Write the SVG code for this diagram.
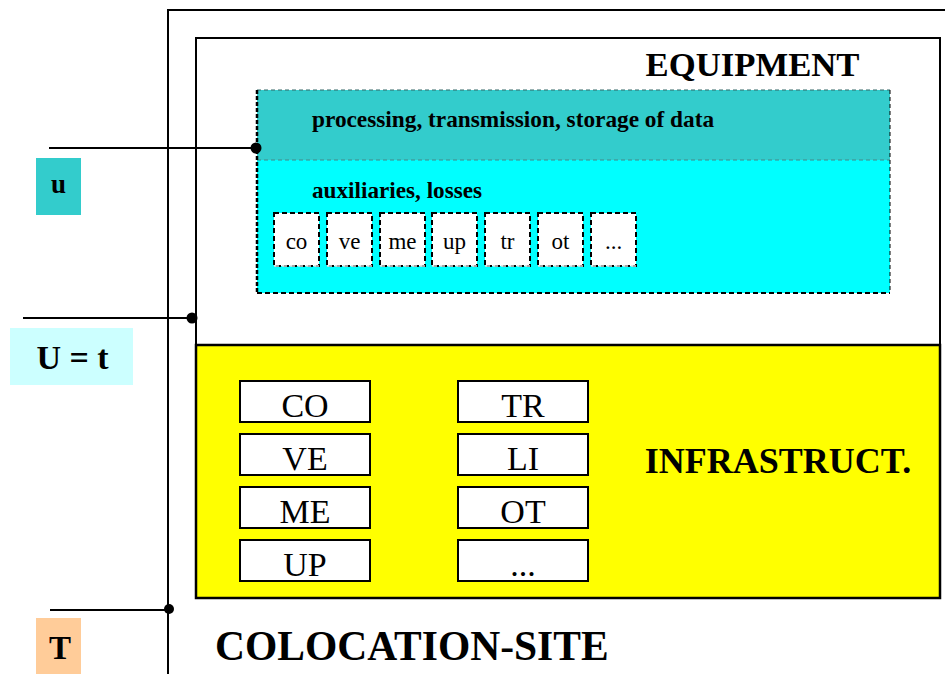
<svg xmlns="http://www.w3.org/2000/svg" width="945" height="674" viewBox="0 0 945 674">
  <style>
    text { font-family: "Liberation Serif", "Times New Roman", serif; fill: #000; }
    .b { font-weight: bold; }
    .frame { fill: none; stroke: #000; stroke-width: 2; }
    .wire { fill: none; stroke: #000; stroke-width: 2; }
    .dot { fill: #000; }
    .sbox { fill: #fff; stroke: #000; stroke-width: 2; stroke-dasharray: 5 3; }
    .sbot { stroke: #ddd; stroke-width: 1.5; stroke-dasharray: 5 3; }
    .bbox { fill: #fff; stroke: #000; stroke-width: 2; }
    .st { font-size: 23px; text-anchor: middle; }
    .bt { font-size: 34px; text-anchor: middle; }
  </style>

  <rect width="945" height="674" fill="#fff"/>

  <!-- colocation site frame -->
  <g id="site">
    <path class="frame" d="M168,674 V10 H945"/>
    <text class="b" x="215" y="660" font-size="41.5">COLOCATION-SITE</text>
  </g>

  <!-- equipment box -->
  <g id="equipment">
    <rect class="frame" x="196" y="38" width="744" height="307" fill="#fff"/>
    <text class="b" x="752.5" y="76" font-size="34.7" text-anchor="middle">EQUIPMENT</text>
  </g>

  <!-- data processing / auxiliaries block -->
  <g id="it-load">
    <rect x="257" y="90" width="633" height="70" fill="#33CCCC"/>
    <rect x="257" y="160" width="633" height="133" fill="#00FFFF"/>
    <line x1="257" y1="90" x2="890" y2="90" stroke="#336666" stroke-width="1" stroke-dasharray="4 3"/>
    <line x1="257" y1="160" x2="890" y2="160" stroke="#448888" stroke-width="1" stroke-dasharray="4 3"/>
    <line x1="890" y1="90" x2="890" y2="293" stroke="#000" stroke-width="1" stroke-dasharray="4 3"/>
    <line x1="257" y1="90" x2="257" y2="293" stroke="#000" stroke-width="2.5" stroke-dasharray="4 2"/>
    <line x1="257" y1="293" x2="890" y2="293" stroke="#000" stroke-width="2" stroke-dasharray="5 3"/>
    <text class="b" x="312" y="127" font-size="23.3">processing, transmission, storage of data</text>
    <text class="b" x="312" y="198" font-size="23.2">auxiliaries, losses</text>
  </g>

  <!-- auxiliary sub-items -->
  <g id="aux-co"><rect class="sbox" x="274" y="213" width="45" height="53"/><line class="sbot" x1="274" y1="266" x2="319" y2="266"/><text class="st" x="296.5" y="249">co</text></g>
  <g id="aux-ve"><rect class="sbox" x="327" y="213" width="45" height="53"/><line class="sbot" x1="327" y1="266" x2="372" y2="266"/><text class="st" x="349.5" y="249">ve</text></g>
  <g id="aux-me"><rect class="sbox" x="380" y="213" width="45" height="53"/><line class="sbot" x1="380" y1="266" x2="425" y2="266"/><text class="st" x="402.5" y="249">me</text></g>
  <g id="aux-up"><rect class="sbox" x="432" y="213" width="45" height="53"/><line class="sbot" x1="432" y1="266" x2="477" y2="266"/><text class="st" x="454.5" y="249">up</text></g>
  <g id="aux-tr"><rect class="sbox" x="485" y="213" width="45" height="53"/><line class="sbot" x1="485" y1="266" x2="530" y2="266"/><text class="st" x="507.5" y="249">tr</text></g>
  <g id="aux-ot"><rect class="sbox" x="538" y="213" width="45" height="53"/><line class="sbot" x1="538" y1="266" x2="583" y2="266"/><text class="st" x="560.5" y="249">ot</text></g>
  <g id="aux-more"><rect class="sbox" x="591" y="213" width="45" height="53"/><line class="sbot" x1="591" y1="266" x2="636" y2="266"/><text class="st" x="613.5" y="249">...</text></g>

  <!-- infrastructure box -->
  <g id="infrastructure">
    <rect x="196" y="345" width="744" height="253" fill="#FFFF00" stroke="#000" stroke-width="2.5"/>
    <text class="b" x="778" y="473" font-size="36" text-anchor="middle">INFRASTRUCT.</text>
  </g>

  <g id="inf-co"><rect class="bbox" x="240" y="381" width="130" height="41"/><text class="bt" x="305" y="417">CO</text></g>
  <g id="inf-ve"><rect class="bbox" x="240" y="434" width="130" height="41"/><text class="bt" x="305" y="470">VE</text></g>
  <g id="inf-me"><rect class="bbox" x="240" y="487" width="130" height="41"/><text class="bt" x="305" y="523">ME</text></g>
  <g id="inf-up"><rect class="bbox" x="240" y="540" width="130" height="41"/><text class="bt" x="305" y="576">UP</text></g>
  <g id="inf-tr"><rect class="bbox" x="458" y="381" width="130" height="41"/><text class="bt" x="523" y="417">TR</text></g>
  <g id="inf-li"><rect class="bbox" x="458" y="434" width="130" height="41"/><text class="bt" x="523" y="470">LI</text></g>
  <g id="inf-ot"><rect class="bbox" x="458" y="487" width="130" height="41"/><text class="bt" x="523" y="523">OT</text></g>
  <g id="inf-more"><rect class="bbox" x="458" y="540" width="130" height="41"/><text class="bt" x="523" y="576">...</text></g>

  <!-- measurement labels -->
  <g id="label-u">
    <rect x="36" y="158" width="45" height="57" fill="#33CCCC"/>
    <text class="b" x="58.5" y="193" font-size="27" text-anchor="middle">u</text>
  </g>
  <g id="label-Ut">
    <rect x="10" y="328" width="123" height="57" fill="#CCFFFF"/>
    <text class="b" x="72.5" y="369" font-size="34" text-anchor="middle">U = t</text>
  </g>
  <g id="label-T">
    <rect x="36" y="618" width="45" height="56" fill="#FFCC99"/>
    <text class="b" x="60" y="659" font-size="33" text-anchor="middle">T</text>
  </g>

  <!-- connectors: measurement taps -->
  <g id="connectors">
    <line class="wire" x1="49" y1="148" x2="256" y2="148"/>
    <circle class="dot" cx="256" cy="148" r="5.5"/>
    <line class="wire" x1="23" y1="318" x2="192" y2="318"/>
    <circle class="dot" cx="192" cy="318" r="5.5"/>
    <line class="wire" x1="50" y1="610" x2="168" y2="610"/>
    <circle class="dot" cx="169" cy="609" r="5"/>
  </g>
</svg>
